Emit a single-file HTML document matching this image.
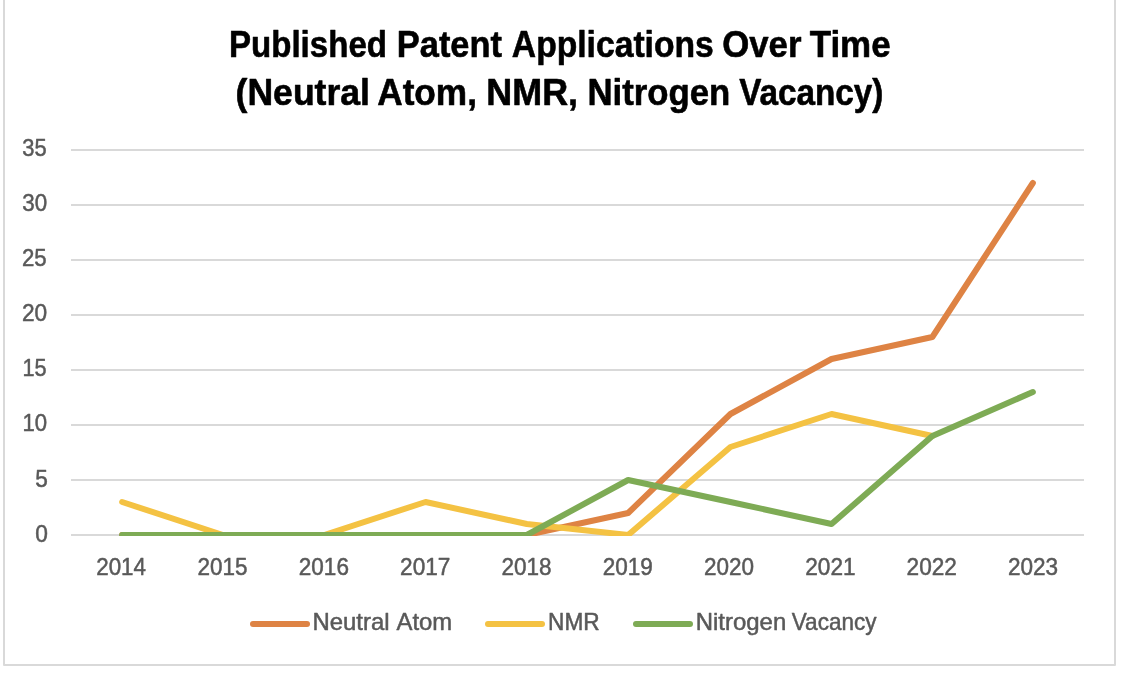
<!DOCTYPE html>
<html lang="en">
<head>
<meta charset="utf-8">
<title>Published Patent Applications Over Time (Neutral Atom, NMR, Nitrogen Vacancy)</title>
<style>
html,body{margin:0;padding:0;background:#fff;}
body{width:1122px;height:674px;overflow:hidden;}
svg{display:block;}
text{font-family:"Liberation Sans",sans-serif;white-space:pre;}
.ax{font-size:23.7px;fill:#595959;stroke:#595959;stroke-width:0.5;stroke-linejoin:round;}
.lg{font-size:23.4px;}
.ttl{font-size:36.85px;font-weight:bold;fill:#000;stroke:#000;stroke-width:0.6;stroke-linejoin:round;}
.grid{stroke:#d9d9d9;stroke-width:2;}
.ser{fill:none;stroke-width:6;stroke-linecap:round;stroke-linejoin:round;}
</style>
</head>
<body>
<svg width="1122" height="674" viewBox="0 0 1122 674">
<rect x="0" y="0" width="1122" height="674" fill="#ffffff"/>
<rect x="4" y="-10" width="1111" height="675" fill="#ffffff" stroke="#d9d9d9" stroke-width="2" stroke-linejoin="round"/>
<defs><clipPath id="plot"><rect x="60" y="100" width="1040" height="436"/></clipPath></defs>
<text class="ttl" y="57"><tspan x="228.99" textLength="157.99" lengthAdjust="spacingAndGlyphs">Published</tspan> <tspan x="396.82" textLength="105.14" lengthAdjust="spacingAndGlyphs">Patent</tspan> <tspan x="511.83" textLength="202.00" lengthAdjust="spacingAndGlyphs">Applications</tspan> <tspan x="722.22" textLength="79.27" lengthAdjust="spacingAndGlyphs">Over</tspan> <tspan x="809.68" textLength="80.99" lengthAdjust="spacingAndGlyphs">Time</tspan></text>
<text class="ttl" y="105"><tspan x="235.55" textLength="134.45" lengthAdjust="spacingAndGlyphs">(Neutral</tspan> <tspan x="377.20" textLength="99.80" lengthAdjust="spacingAndGlyphs">Atom,</tspan> <tspan x="486.33" textLength="91.73" lengthAdjust="spacingAndGlyphs">NMR,</tspan> <tspan x="587.40" textLength="142.80" lengthAdjust="spacingAndGlyphs">Nitrogen</tspan> <tspan x="739.20" textLength="144.21" lengthAdjust="spacingAndGlyphs">Vacancy)</tspan></text>
<line class="grid" x1="71" y1="535" x2="1084" y2="535"/>
<line class="grid" x1="71" y1="480" x2="1084" y2="480"/>
<line class="grid" x1="71" y1="425" x2="1084" y2="425"/>
<line class="grid" x1="71" y1="370" x2="1084" y2="370"/>
<line class="grid" x1="71" y1="315" x2="1084" y2="315"/>
<line class="grid" x1="71" y1="260" x2="1084" y2="260"/>
<line class="grid" x1="71" y1="205" x2="1084" y2="205"/>
<line class="grid" x1="71" y1="150" x2="1084" y2="150"/>
<text class="ax" y="155.9"><tspan x="22.32" textLength="24.36" lengthAdjust="spacingAndGlyphs">35</tspan></text>
<text class="ax" y="211.0"><tspan x="22.31" textLength="24.86" lengthAdjust="spacingAndGlyphs">30</tspan></text>
<text class="ax" y="266.1"><tspan x="21.96" textLength="24.73" lengthAdjust="spacingAndGlyphs">25</tspan></text>
<text class="ax" y="321.2"><tspan x="21.94" textLength="25.24" lengthAdjust="spacingAndGlyphs">20</tspan></text>
<text class="ax" y="376.3"><tspan x="22.53" textLength="24.15" lengthAdjust="spacingAndGlyphs">15</tspan></text>
<text class="ax" y="431.4"><tspan x="22.50" textLength="24.67" lengthAdjust="spacingAndGlyphs">10</tspan></text>
<text class="ax" y="486.5"><tspan x="35.18" textLength="12.59" lengthAdjust="spacingAndGlyphs">5</tspan></text>
<text class="ax" y="541.6"><tspan x="35.30" textLength="12.66" lengthAdjust="spacingAndGlyphs">0</tspan></text>
<text class="ax" y="575"><tspan x="96.21" textLength="49.77" lengthAdjust="spacingAndGlyphs">2014</tspan></text>
<text class="ax" y="575"><tspan x="197.50" textLength="50.02" lengthAdjust="spacingAndGlyphs">2015</tspan></text>
<text class="ax" y="575"><tspan x="298.80" textLength="50.14" lengthAdjust="spacingAndGlyphs">2016</tspan></text>
<text class="ax" y="575"><tspan x="400.10" textLength="50.26" lengthAdjust="spacingAndGlyphs">2017</tspan></text>
<text class="ax" y="575"><tspan x="501.40" textLength="50.14" lengthAdjust="spacingAndGlyphs">2018</tspan></text>
<text class="ax" y="575"><tspan x="602.70" textLength="50.14" lengthAdjust="spacingAndGlyphs">2019</tspan></text>
<text class="ax" y="575"><tspan x="704.00" textLength="50.02" lengthAdjust="spacingAndGlyphs">2020</tspan></text>
<text class="ax" y="575"><tspan x="805.30" textLength="50.26" lengthAdjust="spacingAndGlyphs">2021</tspan></text>
<text class="ax" y="575"><tspan x="906.60" textLength="50.26" lengthAdjust="spacingAndGlyphs">2022</tspan></text>
<text class="ax" y="575"><tspan x="1007.90" textLength="50.14" lengthAdjust="spacingAndGlyphs">2023</tspan></text>
<g clip-path="url(#plot)">
<polyline class="ser" stroke="#de8344" points="122.15,535.00 222.95,535.00 324.25,535.00 425.55,535.00 526.85,535.00 628.15,513.00 730.45,414.00 831.55,359.00 932.35,337.00 1032.85,183.00"/>
<polyline class="ser" stroke="#f4c243" points="122.15,502.00 222.95,535.00 324.25,535.00 425.55,502.00 526.85,524.00 628.15,535.00 730.45,447.00 831.55,414.00 932.35,436.00"/>
<polyline class="ser" stroke="#7eab55" points="122.15,535.00 222.95,535.00 324.25,535.00 425.55,535.00 526.85,535.00 628.15,480.00 730.45,502.00 831.55,524.00 932.35,436.00 1032.85,392.00"/>
</g>
<line class="ser" stroke="#de8344" x1="253" y1="624" x2="307" y2="624"/>
<text class="ax lg" y="629.7"><tspan x="312.44" textLength="77.07" lengthAdjust="spacingAndGlyphs">Neutral</tspan> <tspan x="396.56" textLength="55.69" lengthAdjust="spacingAndGlyphs">Atom</tspan></text>
<line class="ser" stroke="#f4c243" x1="488" y1="624" x2="542" y2="624"/>
<text class="ax lg" y="629.7"><tspan x="548.02" textLength="51.65" lengthAdjust="spacingAndGlyphs">NMR</tspan></text>
<line class="ser" stroke="#7eab55" x1="636" y1="624" x2="690" y2="624"/>
<text class="ax lg" y="629.7"><tspan x="695.74" textLength="90.49" lengthAdjust="spacingAndGlyphs">Nitrogen</tspan> <tspan x="791.72" textLength="84.82" lengthAdjust="spacingAndGlyphs">Vacancy</tspan></text>
</svg>
</body>
</html>
